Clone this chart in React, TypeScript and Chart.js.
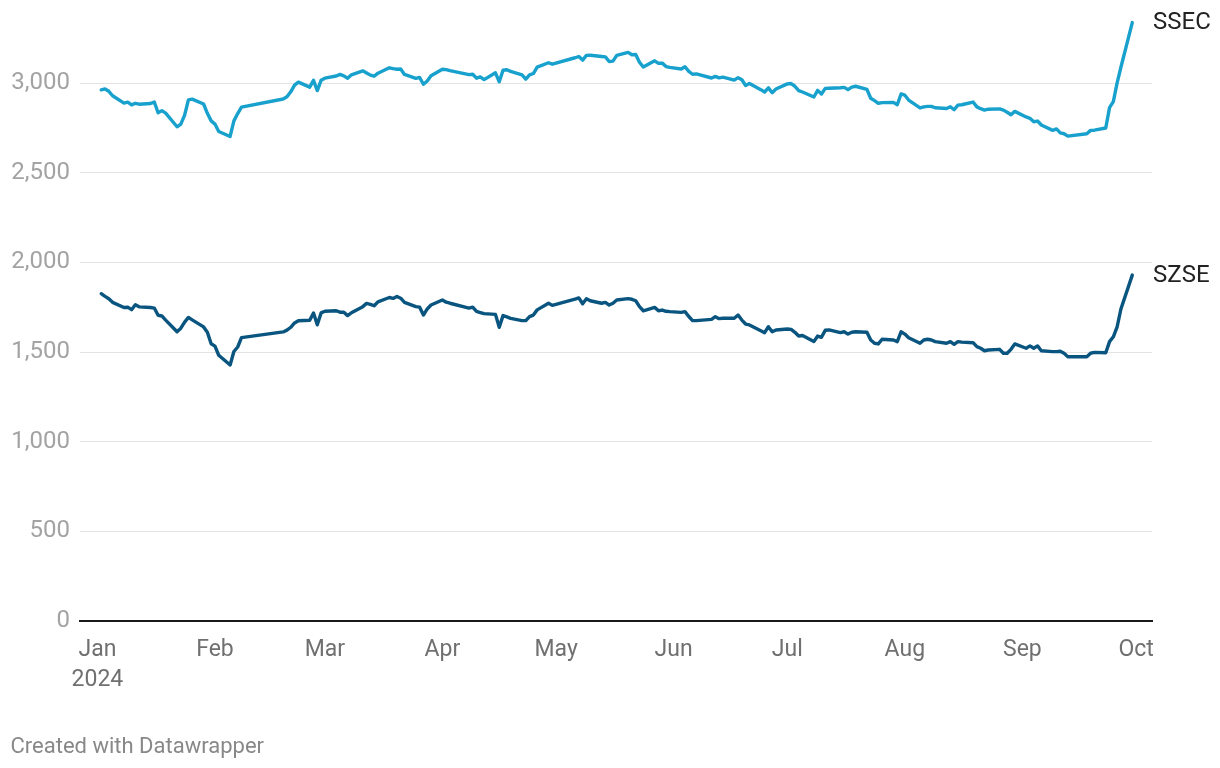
import React, { useEffect, useRef } from "react";
import { Chart, registerables } from "chart.js";

Chart.register(...registerables);

const tradingDates: string[] = [
  "2024-01-02","2024-01-03","2024-01-04","2024-01-05","2024-01-08","2024-01-09","2024-01-10","2024-01-11","2024-01-12","2024-01-15","2024-01-16","2024-01-17","2024-01-18","2024-01-19","2024-01-22","2024-01-23","2024-01-24","2024-01-25","2024-01-26","2024-01-29","2024-01-30","2024-01-31",
  "2024-02-01","2024-02-02","2024-02-05","2024-02-06","2024-02-07","2024-02-08","2024-02-19","2024-02-20","2024-02-21","2024-02-22","2024-02-23","2024-02-26","2024-02-27","2024-02-28","2024-02-29",
  "2024-03-01","2024-03-04","2024-03-05","2024-03-06","2024-03-07","2024-03-08","2024-03-11","2024-03-12","2024-03-13","2024-03-14","2024-03-15","2024-03-18","2024-03-19","2024-03-20","2024-03-21","2024-03-22","2024-03-25","2024-03-26","2024-03-27","2024-03-28","2024-03-29",
  "2024-04-01","2024-04-02","2024-04-03","2024-04-08","2024-04-09","2024-04-10","2024-04-11","2024-04-12","2024-04-15","2024-04-16","2024-04-17","2024-04-18","2024-04-19","2024-04-22","2024-04-23","2024-04-24","2024-04-25","2024-04-26","2024-04-29","2024-04-30",
  "2024-05-06","2024-05-07","2024-05-08","2024-05-09","2024-05-10","2024-05-13","2024-05-14","2024-05-15","2024-05-16","2024-05-17","2024-05-20","2024-05-21","2024-05-22","2024-05-23","2024-05-24","2024-05-27","2024-05-28","2024-05-29","2024-05-30","2024-05-31",
  "2024-06-03","2024-06-04","2024-06-05","2024-06-06","2024-06-07","2024-06-11","2024-06-12","2024-06-13","2024-06-14","2024-06-17","2024-06-18","2024-06-19","2024-06-20","2024-06-21","2024-06-24","2024-06-25","2024-06-26","2024-06-27","2024-06-28",
  "2024-07-01","2024-07-02","2024-07-03","2024-07-04","2024-07-05","2024-07-08","2024-07-09","2024-07-10","2024-07-11","2024-07-12","2024-07-15","2024-07-16","2024-07-17","2024-07-18","2024-07-19","2024-07-22","2024-07-23","2024-07-24","2024-07-25","2024-07-26","2024-07-29","2024-07-30","2024-07-31",
  "2024-08-01","2024-08-02","2024-08-05","2024-08-06","2024-08-07","2024-08-08","2024-08-09","2024-08-12","2024-08-13","2024-08-14","2024-08-15","2024-08-16","2024-08-19","2024-08-20","2024-08-21","2024-08-22","2024-08-23","2024-08-26","2024-08-27","2024-08-28","2024-08-29","2024-08-30",
  "2024-09-02","2024-09-03","2024-09-04","2024-09-05","2024-09-06","2024-09-09","2024-09-10","2024-09-11","2024-09-12","2024-09-13","2024-09-18","2024-09-19","2024-09-20","2024-09-23","2024-09-24","2024-09-25","2024-09-26","2024-09-27","2024-09-30",
];

const ssecValues: number[] = [
  2962, 2967, 2954, 2929, 2888, 2893, 2878, 2887, 2882, 2886, 2894, 2834, 2846, 2832, 2756, 2771, 2821, 2906, 2910, 2883, 2831, 2789,
  2771, 2730, 2702, 2789, 2830, 2866, 2911, 2923, 2951, 2988, 3005, 2977, 3015, 2958, 3015,
  3027, 3039, 3048, 3040, 3027, 3046, 3068, 3056, 3044, 3038, 3055, 3085, 3080, 3077, 3078, 3048, 3026, 3031, 2993, 3011, 3041,
  3077, 3075, 3069, 3047, 3049, 3027, 3034, 3019, 3057, 3007, 3071, 3074, 3065, 3045, 3022, 3045, 3053, 3089, 3113, 3105,
  3141, 3148, 3128, 3154, 3155, 3148, 3146, 3120, 3122, 3154, 3171, 3158, 3159, 3116, 3089, 3124, 3110, 3111, 3092, 3087,
  3078, 3091, 3065, 3049, 3051, 3028, 3037, 3029, 3033, 3016, 3030, 3018, 2986, 2998, 2963, 2950, 2973, 2946, 2967,
  2995, 2997, 2982, 2958, 2950, 2922, 2959, 2939, 2970, 2971, 2974, 2976, 2963, 2977, 2982, 2964, 2915, 2902, 2887, 2891, 2892, 2879, 2939,
  2932, 2905, 2861, 2867, 2870, 2870, 2862, 2858, 2868, 2851, 2877, 2879, 2894, 2867, 2857, 2849, 2854, 2856, 2849, 2837, 2823, 2842,
  2811, 2803, 2784, 2788, 2766, 2736, 2744, 2722, 2717, 2704, 2717, 2736, 2737, 2749, 2863, 2896, 3001, 3088, 3337,
];

const szseValues: number[] = [
  1825, 1810, 1797, 1777, 1748, 1750, 1736, 1764, 1752, 1748, 1745, 1705, 1701, 1678, 1613, 1633, 1667, 1693, 1679, 1640, 1610, 1546,
  1533, 1482, 1428, 1503, 1528, 1580, 1612, 1622, 1638, 1662, 1674, 1677, 1718, 1652, 1718,
  1727, 1730, 1722, 1722, 1703, 1719, 1753, 1771, 1766, 1758, 1780, 1804, 1799, 1810, 1800, 1777, 1753, 1750, 1706, 1740, 1762,
  1790, 1778, 1772, 1745, 1750, 1726, 1720, 1714, 1710, 1638, 1703, 1696, 1688, 1675, 1675, 1697, 1706, 1735, 1772, 1760,
  1795, 1802, 1769, 1797, 1786, 1772, 1777, 1762, 1772, 1790, 1798, 1794, 1786, 1753, 1730, 1749, 1730, 1734, 1727, 1725,
  1721, 1725, 1698, 1675, 1675, 1682, 1697, 1686, 1688, 1688, 1706, 1678, 1656, 1651, 1619, 1608, 1641, 1613, 1623,
  1628, 1626, 1610, 1589, 1592, 1558, 1589, 1582, 1621, 1623, 1608, 1613, 1600, 1610, 1613, 1610, 1567, 1549, 1545, 1571, 1567, 1558, 1613,
  1600, 1580, 1549, 1567, 1571, 1567, 1558, 1549, 1558, 1543, 1558, 1555, 1552, 1530, 1521, 1507, 1511, 1515, 1493, 1493, 1515, 1545,
  1521, 1534, 1521, 1534, 1507, 1502, 1502, 1504, 1493, 1474, 1474, 1493, 1498, 1496, 1558, 1585, 1640, 1740, 1929,
];

const seriesNames: string[] = ["SSEC", "SZSE"];
const seriesColors: string[] = ["#18a1cd", "#09557f"];

const monthStarts: string[] = [
  "2024-01-01","2024-02-01","2024-03-01","2024-04-01","2024-05-01",
  "2024-06-01","2024-07-01","2024-08-01","2024-09-01","2024-10-01",
];
const monthLabels: string[] = ["Jan", "Feb", "Mar", "Apr", "May", "Jun", "Jul", "Aug", "Sep", "Oct"];
const yearLabel = "2024";
const yTicks: number[] = [0, 500, 1000, 1500, 2000, 2500, 3000];

const dayIndex = (s: string): number => {
  const [y, m, d] = s.split("-").map(Number);
  return (Date.UTC(y, m - 1, d) - Date.UTC(2024, 0, 1)) / 86400000;
};

const FONT = "Roboto";

const endLabels = {
  id: "endLabels",
  afterDatasetsDraw(chart: any) {
    const ctx = chart.ctx;
    ctx.save();
    ctx.font = `24px ${FONT}`;
    ctx.fillStyle = "#222222";
    ctx.textBaseline = "middle";
    ctx.textAlign = "left";
    chart.data.datasets.forEach((ds: any, i: number) => {
      const meta = chart.getDatasetMeta(i);
      const pt = meta.data[meta.data.length - 1];
      if (pt) ctx.fillText(ds.label, chart.chartArea.right + 1, pt.y + 0.5);
    });
    ctx.restore();
  },
};

export default function App() {
  const canvasRef = useRef<HTMLCanvasElement | null>(null);

  useEffect(() => {
    if (!canvasRef.current) return;
    const values = [ssecValues, szseValues];
    const chart = new Chart(canvasRef.current, {
      type: "line",
      data: {
        datasets: seriesNames.map((name, k) => ({
          label: name,
          data: tradingDates.map((d, i) => ({ x: dayIndex(d), y: values[k][i] })),
          borderColor: seriesColors[k],
          backgroundColor: seriesColors[k],
          borderWidth: 3.4,
          pointRadius: 0,
          pointHoverRadius: 0,
          tension: 0,
          borderJoinStyle: "round",
          borderCapStyle: "round",
          fill: false,
        })),
      },
      options: {
        responsive: false,
        maintainAspectRatio: false,
        animation: false,
        events: [],
        layout: { padding: { left: 0, right: 68, top: 11.3, bottom: 0 } },
        plugins: { legend: { display: false }, tooltip: { enabled: false } },
        scales: {
          x: {
            type: "linear",
            min: -4.6,
            max: 278.2,
            grid: { display: false, drawTicks: false },
            border: { display: true, color: "#1a1a1a", width: 2 },
            afterBuildTicks: (s: any) => {
              s.ticks = monthStarts.map((d) => ({ value: dayIndex(d) }));
            },
            afterFit: (s: any) => {
              s.height = 147;
              s.paddingLeft = 0;
              s.paddingRight = 0;
            },
            ticks: {
              autoSkip: false,
              maxRotation: 0,
              minRotation: 0,
              padding: 14,
              color: "#707070",
              font: { family: FONT, size: 23, lineHeight: 1.3 },
              callback: (_v: any, i: number) => (i === 0 ? [monthLabels[0], yearLabel] : monthLabels[i]),
            },
          },
          y: {
            min: 0,
            max: 3400,
            afterBuildTicks: (s: any) => {
              s.ticks = yTicks.map((v) => ({ value: v }));
            },
            afterFit: (s: any) => {
              s.width = 80;
              s.paddingTop = 0;
              s.paddingBottom = 0;
            },
            grid: { color: "#e3e3e3", lineWidth: 1, drawTicks: false },
            border: { display: false },
            ticks: {
              padding: 10,
              color: "#a3a3a3",
              font: { family: FONT, size: 24, lineHeight: 1 },
              callback: (v: any) => Number(v).toLocaleString("en-US"),
            },
          },
        },
      },
      plugins: [endLabels],
    } as any);
    return () => chart.destroy();
  }, []);

  return (
    <div style={{ position: "absolute", left: 0, top: 0, width: 1220, height: 768, background: "#ffffff" }}>
      <canvas ref={canvasRef} width={1220} height={768} style={{ width: 1220, height: 768, display: "block" }} />
      <div
        style={{
          position: "absolute",
          left: 10.5,
          top: 735,
          fontFamily: FONT,
          fontSize: 22,
          lineHeight: "22px",
          color: "#888888",
          whiteSpace: "nowrap",
        }}
      >
        Created with Datawrapper
      </div>
    </div>
  );
}
